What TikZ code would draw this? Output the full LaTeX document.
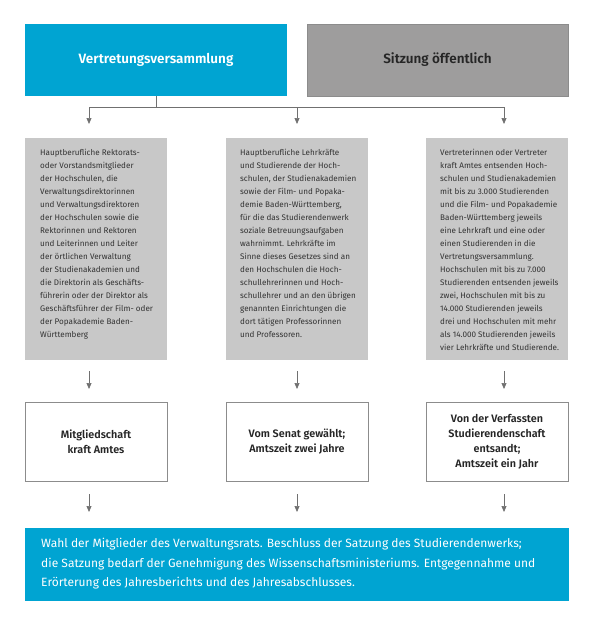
\documentclass[tikz,border=0pt]{standalone}
\usepackage{fontspec}
\setmainfont{Fira Sans}[BoldFont={Fira Sans SemiBold}]
\usetikzlibrary{arrows.meta}
\definecolor{cblue}{RGB}{0,164,210}
\definecolor{cdgray}{RGB}{158,157,157}
\definecolor{cdgrayb}{RGB}{140,140,140}
\definecolor{clgray}{RGB}{200,200,200}
\definecolor{carrow}{RGB}{112,112,112}
\definecolor{ctext}{RGB}{50,50,50}
\begin{document}
\begin{tikzpicture}[x=1pt,y=-1pt,
  headblue/.style={fill=cblue, draw=none, minimum width=262pt, minimum height=72pt, inner sep=0pt, text=white, font=\fontsize{13.5}{16}\selectfont\bfseries},
  headgray/.style={fill=cdgray, draw=cdgrayb, line width=0.6pt, minimum width=261pt, minimum height=72pt, inner sep=0pt, text=black!85, font=\fontsize{13.5}{16}\selectfont\bfseries},
  graybox/.style={fill=clgray, draw=none, minimum width=142pt, minimum height=222pt, inner sep=0pt},
  graytext/.style={anchor=north west, inner sep=0pt, align=left, text=ctext, font=\fontsize{8.1}{13}\selectfont},
  whitebox/.style={draw=black!45, line width=0.8pt, fill=white, minimum width=142pt, minimum height=79pt, inner sep=0pt, align=center, text=black!85, font=\fontsize{10.8}{15}\selectfont\bfseries},
  botbox/.style={fill=cblue, draw=none, minimum width=544pt, minimum height=73pt, inner sep=0pt},
  bottext/.style={anchor=north west, inner sep=0pt, align=left, text=white, font=\fontsize{12}{19.5}\selectfont},
  conn/.style={draw=carrow, line width=0.7pt},
  arr/.style={conn, -{Triangle[width=5pt,length=6pt]}}
]
\useasboundingbox (0,0) rectangle (597,624);

% top boxes
\node[headblue] (va) at (156,60) {Vertretungsversammlung};
\node[headgray] (so) at (437.5,60) {Sitzung öffentlich};

% gray boxes
\node[graybox] (g1) at (96,249) {};
\node[graybox] (g2) at (297,249) {};
\node[graybox] (g3) at (497,249) {};

\node[graytext] (g1t) at (40,149) {Hauptberufliche Rektorats-\\oder Vorstandsmitglieder\\der Hochschulen, die\\Verwaltungsdirektorinnen\\und Verwaltungsdirektoren\\der Hochschulen sowie die\\Rektorinnen und Rektoren\\und Leiterinnen und Leiter\\der örtlichen Verwaltung\\der Studienakademien und\\die Direktorin als Geschäfts-\\führerin oder der Direktor als\\Geschäftsführer der Film- oder\\der Popakademie Baden-\\Württemberg};
\node[graytext] (g2t) at (240,149) {Hauptberufliche Lehrkräfte\\und Studierende der Hoch-\\schulen, der Studienakademien\\sowie der Film- und Popaka-\\demie Baden-Württemberg,\\für die das Studierendenwerk\\soziale Betreuungsaufgaben\\wahrnimmt. Lehrkräfte im\\Sinne dieses Gesetzes sind an\\den Hochschulen die Hoch-\\schullehrerinnen und Hoch-\\schullehrer und an den übrigen\\genannten Einrichtungen die\\dort tätigen Professorinnen\\und Professoren.};
\node[graytext] (g3t) at (440,149) {Vertreterinnen oder Vertreter\\kraft Amtes entsenden Hoch-\\schulen und Studienakademien\\mit bis zu 3.000 Studierenden\\und die Film- und Popakademie\\Baden-Württemberg jeweils\\eine Lehrkraft und eine oder\\einen Studierenden in die\\Vertretungsversammlung.\\Hochschulen mit bis zu 7.000\\Studierenden entsenden jeweils\\zwei, Hochschulen mit bis zu\\14.000 Studierenden jeweils\\drei und Hochschulen mit mehr\\als 14.000 Studierenden jeweils\\vier Lehrkräfte und Studierende.};

% white boxes
\node[whitebox] (w1) at (96,441.5) {Mitgliedschaft\\kraft Amtes};
\node[whitebox] (w2) at (297,441.5) {Vom Senat gewählt;\\Amtszeit zwei Jahre};
\node[whitebox] (w3) at (497,441.5) {Von der Verfassten\\Studierendenschaft\\entsandt;\\Amtszeit ein Jahr};

% bottom box
\node[botbox] (bot) at (297,564.5) {};
\node[bottext] (bott) at (41,538) {Wahl der Mitglieder des Verwaltungsrats. Beschluss der Satzung des Studierendenwerks;\\die Satzung bedarf der Genehmigung des Wissenschaftsministeriums. Entgegennahme und\\Erörterung des Jahresberichts und des Jahresabschlusses.};

% connector coordinates
\coordinate (hub) at (156,107);
\coordinate (h1) at (89,107);
\coordinate (h2) at (297,107);
\coordinate (h3) at (504,107);
\coordinate (t1) at (89,124);
\coordinate (t2) at (297,124);
\coordinate (t3) at (504,124);
\coordinate (m1s) at (89,371);
\coordinate (m2s) at (297,371);
\coordinate (m3s) at (504,371);
\coordinate (m1e) at (89,389);
\coordinate (m2e) at (297,389);
\coordinate (m3e) at (504,389);
\coordinate (b1s) at (89,494);
\coordinate (b2s) at (297,494);
\coordinate (b3s) at (504,494);
\coordinate (b1e) at (89,512);
\coordinate (b2e) at (297,512);
\coordinate (b3e) at (504,512);

\draw[conn] (va.south) -- (hub);
\draw[conn] (h1) -- (h3);
\draw[arr] (h1) -- (t1);
\draw[arr] (h2) -- (t2);
\draw[arr] (h3) -- (t3);
\draw[arr] (m1s) -- (m1e);
\draw[arr] (m2s) -- (m2e);
\draw[arr] (m3s) -- (m3e);
\draw[arr] (b1s) -- (b1e);
\draw[arr] (b2s) -- (b2e);
\draw[arr] (b3s) -- (b3e);
\end{tikzpicture}
\end{document}
